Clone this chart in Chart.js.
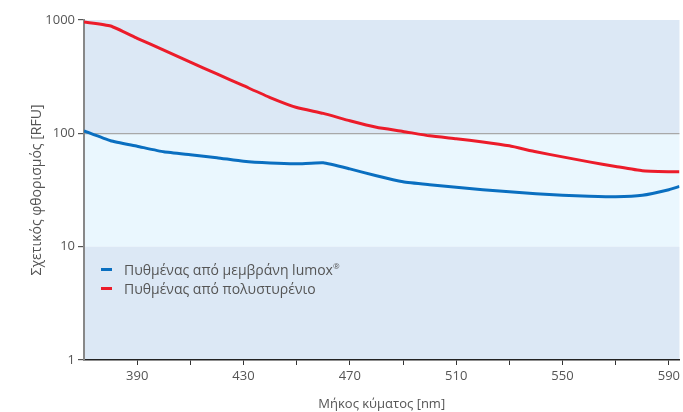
<!DOCTYPE html>
<html>
<head>
<meta charset="utf-8">
<script src="https://cdn.jsdelivr.net/npm/chart.js@4.4.1/dist/chart.umd.min.js"></script>
<style>
  html, body { margin: 0; padding: 0; background: #fff; }
  #wrap { position: relative; width: 683px; height: 412px; }
  #legend { position: absolute; left: 101px; top: 260px; font-family: "Open Sans", sans-serif; font-size: 14px; color: #555; line-height: 19px; }
  #legend .item { display: flex; align-items: center; white-space: nowrap; }
  #legend .sw { display: inline-block; width: 11px; height: 3px; margin-right: 12px; }
  #legend sup { font-size: 8px; line-height: 0; }
</style>
</head>
<body>
<div id="wrap">
  <canvas id="chart" width="683" height="412"></canvas>
  <div id="legend"></div>
</div>
<script>
const wavelengths = [370, 380, 390, 400, 410, 420, 430, 440, 450, 460, 470, 480, 490, 500, 510, 520, 530, 540, 550, 560, 570, 580, 590, 594];
const lumoxValues = [105, 86, 77, 68.7, 64.7, 61, 56.6, 54.6, 53.8, 55, 48.6, 42.2, 37.4, 35.2, 33.4, 31.8, 30.5, 29.3, 28.4, 27.9, 27.6, 28.4, 31.8, 34];
const polystyreneValues = [960, 885, 690, 542, 425, 334, 263, 207, 169, 150, 129, 113, 104, 95, 89.5, 84, 77.6, 68.7, 62, 56, 51, 46.7, 45.8, 45.8];
const seriesLabels = ['Πυθμένας από μεμβράνη lumox®', 'Πυθμένας από πολυστυρένιο'];
const yTicks = [1, 10, 100, 1000];
const xTicks = [390, 410, 430, 450, 470, 490, 510, 530, 550, 570, 590];
const xLabelled = [390, 430, 470, 510, 550, 590];

const font = "'Open Sans', sans-serif";

// shaded decade bands behind the plot
const bands = {
  id: 'bands',
  beforeDraw(chart) {
    const { ctx, chartArea, scales } = chart;
    const y = scales.y;
    const fills = [[1000, 100, '#dce8f5'], [100, 10, '#eaf7fe'], [10, 1, '#dce8f5']];
    ctx.save();
    fills.forEach(([a, b, c]) => {
      const top = y.getPixelForValue(a);
      const bot = y.getPixelForValue(b);
      ctx.fillStyle = c;
      ctx.fillRect(chartArea.left, top, chartArea.right - chartArea.left, bot - top);
    });
    ctx.restore();
  }
};

const toPoints = vals => wavelengths.map((w, i) => ({ x: w, y: vals[i] }));

const chart = new Chart(document.getElementById('chart'), {
  type: 'line',
  data: {
    datasets: [{
      label: seriesLabels[0],
      data: toPoints(lumoxValues),
      borderColor: '#0a6fc0',
      borderWidth: 3,
      tension: 0.15,
      pointRadius: 0
    }, {
      label: seriesLabels[1],
      data: toPoints(polystyreneValues),
      borderColor: '#ec1c2a',
      borderWidth: 3,
      tension: 0.15,
      pointRadius: 0
    }]
  },
  options: {
    responsive: false,
    animation: false,
    layout: { padding: { top: 20, right: 0, left: 0, bottom: 0 } },
    plugins: {
      legend: { display: false },
      tooltip: { enabled: false }
    },
    scales: {
      x: {
        type: 'linear',
        min: 370,
        max: 594,
        afterBuildTicks: axis => { axis.ticks = xTicks.map(v => ({ value: v })); },
        afterFit: axis => { axis.height = 52; },
        border: { color: '#222', width: 1.5 },
        grid: { drawOnChartArea: false, drawTicks: true, tickLength: 5, tickColor: '#333', color: 'transparent' },
        ticks: {
          color: '#555',
          font: { family: font, size: 13 },
          padding: 3,
          maxRotation: 0,
          callback: v => (xLabelled.includes(v) ? String(v) : '')
        },
        title: {
          display: true,
          text: 'Μήκος κύματος [nm]',
          color: '#555',
          font: { family: font, size: 13 },
          padding: { top: 3, bottom: 0 }
        }
      },
      y: {
        type: 'logarithmic',
        min: 1,
        max: 1000,
        afterBuildTicks: axis => { axis.ticks = yTicks.map(v => ({ value: v })); },
        afterFit: axis => { axis.width = 84; },
        border: { color: '#888', width: 2 },
        grid: {
          color: ctx => (ctx.tick && ctx.tick.value === 100 ? '#a8a8a8' : 'transparent'),
          lineWidth: 1.2,
          drawTicks: true,
          tickLength: 6,
          tickColor: '#555'
        },
        ticks: {
          color: '#555',
          font: { family: font, size: 13 },
          padding: 3,
          callback: v => String(v)
        },
        title: {
          display: true,
          text: 'Σχετικός φθορισμός [RFU]',
          color: '#555',
          font: { family: font, size: 14 },
          padding: { top: 29, bottom: 0 }
        }
      }
    }
  },
  plugins: [bands]
});

// html legend inside the plot
const legendEl = document.getElementById('legend');
chart.data.datasets.forEach(ds => {
  const row = document.createElement('div');
  row.className = 'item';
  const sw = document.createElement('span');
  sw.className = 'sw';
  sw.style.background = ds.borderColor;
  const txt = document.createElement('span');
  txt.innerHTML = ds.label.replace('®', '<sup>®</sup>');
  row.appendChild(sw);
  row.appendChild(txt);
  legendEl.appendChild(row);
});
</script>
</body>
</html>
